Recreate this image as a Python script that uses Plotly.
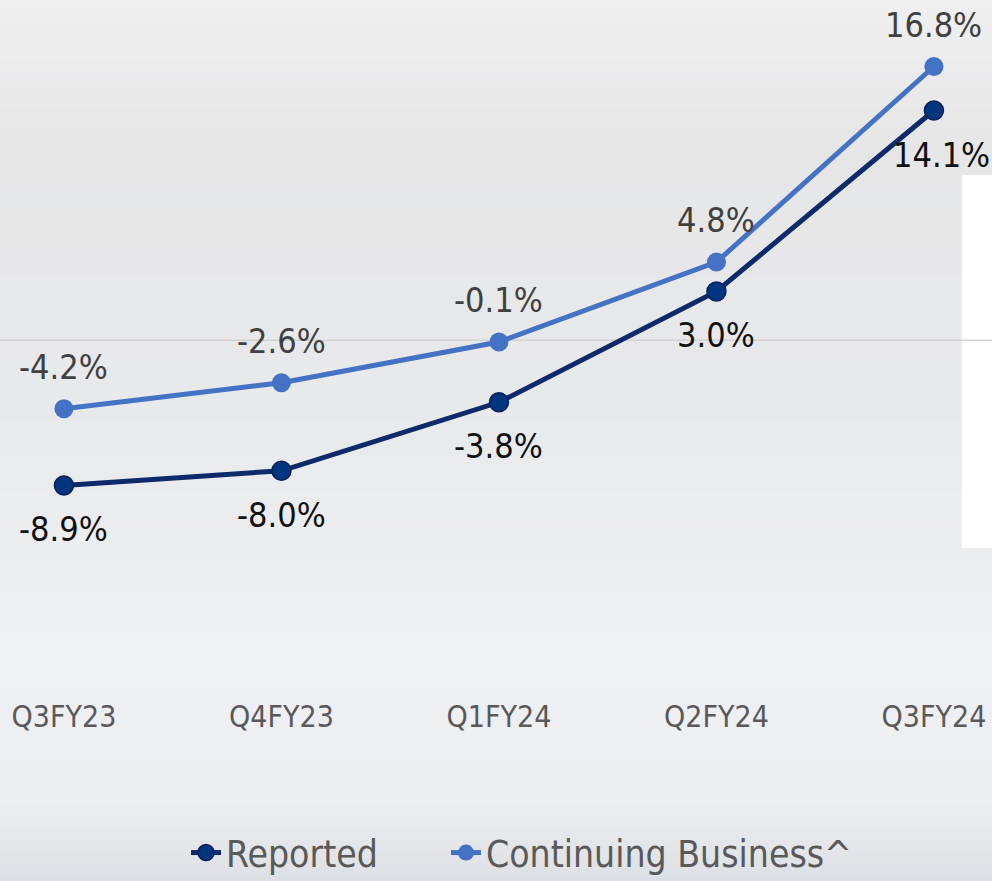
import plotly.graph_objects as go

quarters = ["Q3FY23", "Q4FY23", "Q1FY24", "Q2FY24", "Q3FY24"]
reported = [-8.9, -8.0, -3.8, 3.0, 14.1]
continuing = [-4.2, -2.6, -0.1, 4.8, 16.8]

FONT = "DejaVu Sans Condensed, DejaVu Sans, sans-serif"
NAVY = "#0d2a6b"
NAVY_MK = "#003580"
BLUE = "#4472c4"

W, H = 992, 905
PLOT_H = 690

fig = go.Figure()

fig.add_trace(go.Scatter(
    x=quarters, y=reported, name="Reported", mode="lines+markers",
    line=dict(color=NAVY, width=5), legend="legend",
    marker=dict(size=19, color=NAVY_MK, line=dict(color="#0a2058", width=1.5)),
))
fig.add_trace(go.Scatter(
    x=quarters, y=continuing, name="Continuing Business^", mode="lines+markers",
    line=dict(color=BLUE, width=5), legend="legend2",
    marker=dict(size=19, color=BLUE),
))

annotations = []
for q, v in zip(quarters, continuing):
    annotations.append(dict(x=q, y=v, text=f"{v:.1f}%", showarrow=False,
                            yshift=42, font=dict(size=34, color="#404040", family=FONT)))
for i, (q, v) in enumerate(zip(quarters, reported)):
    annotations.append(dict(x=q, y=v, text=f"{v:.1f}%", showarrow=False,
                            yshift=-44, xshift=(8 if i == 4 else 0),
                            font=dict(size=34, color="#111111", family=FONT)))


def hex2rgb(h):
    h = h.lstrip("#")
    return tuple(int(h[i:i + 2], 16) for i in (0, 2, 4))


# soft vertical background gradient (pixel y, colour)
stops = [(0, "#efeff0"), (150, "#e6e6e7"), (400, "#e8e9eb"), (650, "#eff0f2"),
         (800, "#eceef1"), (845, "#e4e6ea"), (905, "#d8dbe0")]
shapes = []
step = 6
for y0 in range(0, H, step):
    yc = y0 + step / 2
    for (a, ca), (b, cb) in zip(stops[:-1], stops[1:]):
        if a <= yc <= b:
            t = (yc - a) / (b - a)
            r1, g1, b1 = hex2rgb(ca)
            r2, g2, b2 = hex2rgb(cb)
            col = "rgb(%d,%d,%d)" % (round(r1 + (r2 - r1) * t), round(g1 + (g2 - g1) * t),
                                     round(b1 + (b2 - b1) * t))
            break
    shapes.append(dict(type="rect", xref="paper", yref="paper", x0=-0.01, x1=1.01,
                       y0=(PLOT_H - y0 - step) / PLOT_H, y1=(PLOT_H - y0) / PLOT_H,
                       fillcolor=col, line=dict(width=0), layer="below"))

shapes += [
    # white panel on the right
    dict(type="rect", xref="paper", yref="paper", x0=0.9695, x1=1.01, y0=(PLOT_H - 548) / PLOT_H,
         y1=(PLOT_H - 175) / PLOT_H, fillcolor="#ffffff", line=dict(width=0), layer="below"),
    # zero line
    dict(type="line", xref="paper", yref="y", x0=0, x1=1, y0=0, y1=0,
         line=dict(color="#d2d2d2", width=1.5), layer="below"),
]

legend_common = dict(orientation="h", xanchor="left", y=-(822 - PLOT_H) / PLOT_H, yanchor="top",
                     font=dict(size=37, color="#595959", family=FONT),
                     bgcolor="rgba(0,0,0,0)", tracegroupgap=0)

fig.update_layout(
    width=W, height=H,
    margin=dict(l=0, r=0, t=0, b=H - PLOT_H, autoexpand=False),
    paper_bgcolor="#e8e9eb",
    plot_bgcolor="rgba(0,0,0,0)",
    showlegend=True,
    legend=dict(x=0.1875, **legend_common),
    legend2=dict(x=0.4496, **legend_common),
    xaxis=dict(type="category", range=[-0.294, 4.267], showgrid=False, zeroline=False,
               showline=False, ticks="", ticklabelstandoff=6,
               tickfont=dict(size=30, color="#595959", family=FONT)),
    yaxis=dict(range=[-21.45, 20.88], showgrid=False, zeroline=False, showticklabels=False,
               showline=False, ticks=""),
    annotations=annotations,
    shapes=shapes,
)

fig.write_html("out.html", config={"displayModeBar": False},
               post_script="document.body.style.margin='0';document.body.style.overflow='hidden';"
                           "document.documentElement.style.overflow='hidden';")
